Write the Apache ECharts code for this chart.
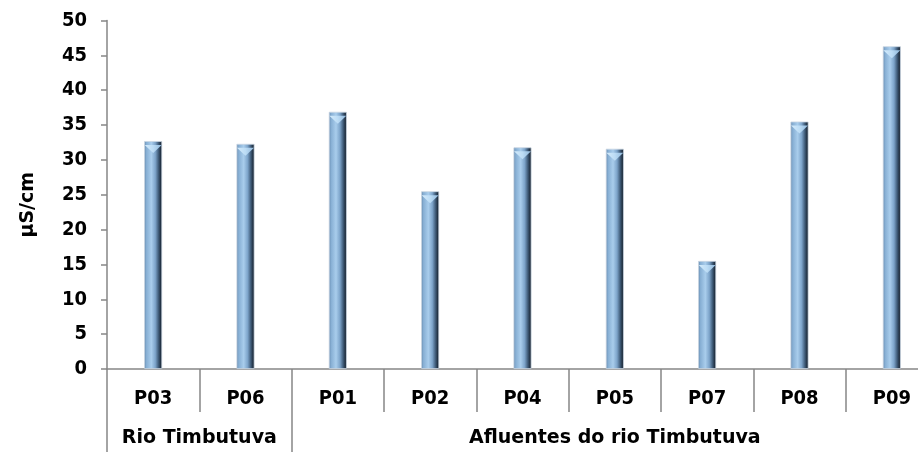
<!DOCTYPE html>
<html>
<head>
<meta charset="utf-8">
<script src="https://cdn.jsdelivr.net/npm/echarts@6/dist/echarts.min.js"></script>
<style>
html,body{margin:0;padding:0;background:#fff;overflow:hidden;}
#chart{width:918px;height:452px;}
</style>
</head>
<body>
<div id="chart"></div>
<script>
// ---- data ----
var categories = ['P03', 'P06', 'P01', 'P02', 'P04', 'P05', 'P07', 'P08', 'P09'];
var values = [32.7, 32.3, 36.9, 25.5, 31.8, 31.6, 15.5, 35.5, 46.3];
var groupNames = ['Rio Timbutuva', 'Afluentes do rio Timbutuva'];
var groupSizes = [2, 7];
var yTicks = { min: 0, max: 50, interval: 5 };
var yName = 'µS/cm';

// ---- derived group boundaries / centers ----
var groupBounds = [0];
var groupCenters = [];
var acc = 0;
for (var i = 0; i < groupSizes.length; i++) {
  groupCenters.push(acc + groupSizes[i] / 2);
  acc += groupSizes[i];
  groupBounds.push(acc);
}

var FONT = 'DejaVu Sans';
var FONT_C = 'DejaVu Sans Condensed';
var AXIS_COLOR = '#868686';

var chart = echarts.init(document.getElementById('chart'), null, { renderer: 'canvas' });

var barGradient = new echarts.graphic.LinearGradient(0, 0, 1, 0, [
  { offset: 0, color: '#5f83a8' },
  { offset: 0.12, color: '#86aed3' },
  { offset: 0.4, color: '#a9cdec' },
  { offset: 0.62, color: '#7da4ca' },
  { offset: 0.8, color: '#3f5b78' },
  { offset: 1, color: '#0b121b' }
]);

chart.setOption({
  animation: false,
  grid: { left: 107, top: 20.5, width: 831, bottom: 83, containLabel: false, outerBoundsMode: 'none' },
  xAxis: [
    {
      type: 'category',
      data: categories,
      boundaryGap: true,
      axisLine: { show: true, lineStyle: { color: AXIS_COLOR, width: 1.5 } },
      axisTick: { show: true, interval: 0, length: 43, lineStyle: { color: AXIS_COLOR, width: 1.5 } },
      axisLabel: {
        interval: 0, margin: 20,
        fontFamily: FONT_C, fontSize: 20, fontWeight: 'bold', color: '#000'
      },
      splitLine: { show: false }
    },
    {
      type: 'value',
      min: 0,
      max: categories.length,
      position: 'bottom',
      offset: 43,
      axisLine: { show: false },
      splitLine: { show: false },
      axisTick: {
        show: true, inside: false, length: 40,
        customValues: groupBounds,
        lineStyle: { color: AXIS_COLOR, width: 1.5 }
      },
      axisLabel: {
        show: true, margin: 17,
        customValues: groupCenters,
        formatter: function (v) {
          for (var k = 0; k < groupCenters.length; k++) {
            if (Math.abs(groupCenters[k] - v) < 1e-6) return groupNames[k];
          }
          return '';
        },
        fontFamily: FONT, fontSize: 19, fontWeight: 'bold', color: '#000'
      }
    }
  ],
  yAxis: {
    type: 'value',
    min: yTicks.min,
    max: yTicks.max,
    interval: yTicks.interval,
    name: yName,
    nameLocation: 'middle',
    nameGap: 69,
    nameRotate: 90,
    nameTextStyle: { fontFamily: FONT, fontSize: 19, fontWeight: 'bold', color: '#000', padding: [0, 20, 0, 0] },
    axisLine: { show: true, lineStyle: { color: AXIS_COLOR, width: 1.5 } },
    axisTick: { show: true, inside: false, length: 6, lineStyle: { color: AXIS_COLOR, width: 1.5 } },
    axisLabel: { margin: 20, fontFamily: FONT_C, fontSize: 20, fontWeight: 'bold', color: '#000' },
    splitLine: { show: false }
  },
  series: [
    {
      type: 'bar',
      xAxisIndex: 0,
      data: values,
      barWidth: 18,
      itemStyle: { color: barGradient, borderColor: '#c9d6e2', borderWidth: 0.8 },
      z: 2
    },
    {
      type: 'pictorialBar',
      xAxisIndex: 0,
      data: values,
      symbol: 'path://M0,0 L20,0 L10,9 Z',
      symbolSize: [17, 8],
      symbolPosition: 'end',
      symbolOffset: [0, '50%'],
      itemStyle: {
        color: new echarts.graphic.LinearGradient(0, 0, 1, 0, [
          { offset: 0, color: '#d4ebfb' },
          { offset: 0.5, color: '#bcdcf5' },
          { offset: 1, color: '#8fb8dc' }
        ])
      },
      z: 3,
      silent: true
    }
  ]
});
</script>
</body>
</html>
